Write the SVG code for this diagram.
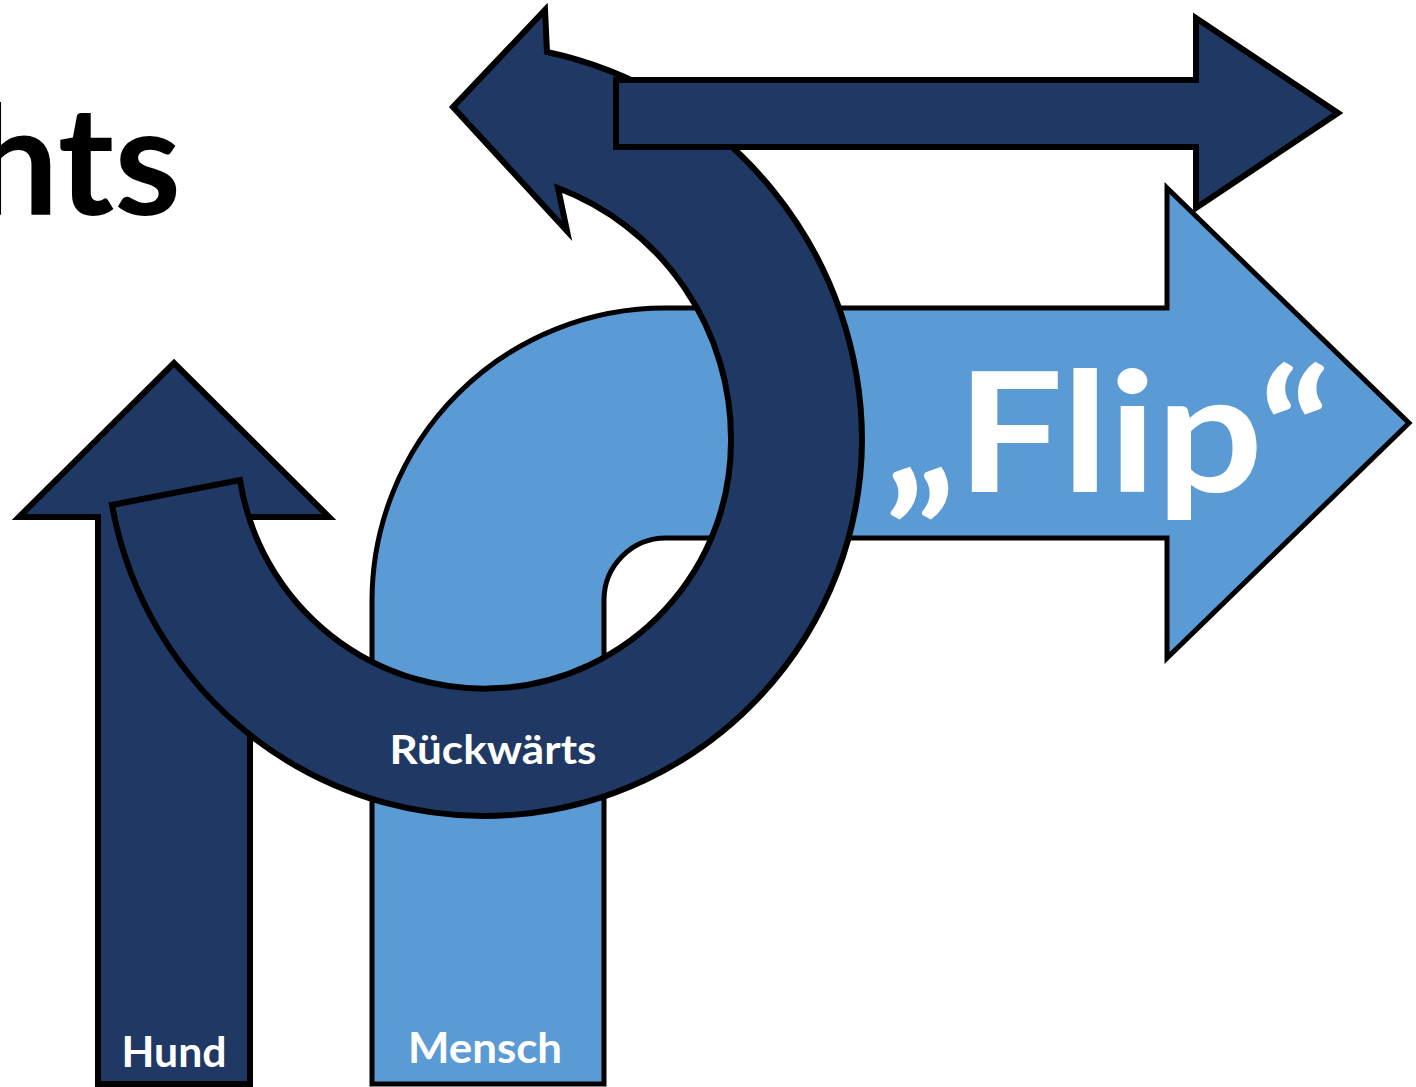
<svg xmlns="http://www.w3.org/2000/svg" width="1416" height="1087" viewBox="0 0 1416 1087">
<style>
.dark{fill:#1f3864;stroke:#000;stroke-width:6;stroke-linejoin:miter;stroke-miterlimit:10}
.light{fill:#5b9bd5;stroke:#000;stroke-width:5;stroke-linejoin:miter;stroke-miterlimit:10}
.lbl{font-family:Lato,"Open Sans","Liberation Sans",sans-serif;font-weight:bold;fill:#fff;text-anchor:middle}
</style>
<rect width="1416" height="1087" fill="#fff"/>
<g id="title">
<text x="181" y="215" font-family="Lato,'Open Sans','Liberation Sans',sans-serif" font-weight="bold" font-size="152" text-anchor="end" fill="#000">hts</text>
</g>
<g id="hund">
<path class="dark" d="M98,1084 L98,517 L19,517 L174,363 L329,517 L250,517 L250,1084 Z"/>
<text class="lbl" x="174" y="1067" font-size="42" textLength="105" lengthAdjust="spacingAndGlyphs">Hund</text>
</g>
<g id="mensch">
<path class="light" d="M372,1084 L372,601 A293,293 0 0 1 665,308 L1167,308 L1167,188 L1409,423 L1167,658 L1167,538 L666,538 A62,62 0 0 0 604,600 L604,1084 Z"/>
<text class="lbl" x="485" y="1063" font-size="42" textLength="154" lengthAdjust="spacingAndGlyphs">Mensch</text>
<text class="lbl" x="1108" y="492" font-size="167" textLength="447" lengthAdjust="spacingAndGlyphs">„Flip“</text>
</g>
<g id="rueckwaerts">
<path class="dark" stroke-width="7" d="M112,505 A378,378 0 0 0 862,441 A398,398 0 0 0 547,52 L545,10 L453,107 L567,231 L558,188 A268,268 0 0 1 731,441 A247,247 0 0 1 240,480 Z"/>
<text class="lbl" x="493" y="764" font-size="40" textLength="207" lengthAdjust="spacingAndGlyphs">Rückwärts</text>
</g>
<g id="oben">
<path class="dark" d="M616,80 L1196,80 L1196,18 L1338,113 L1196,208 L1196,147 L616,147 Z"/>
</g>
</svg>
